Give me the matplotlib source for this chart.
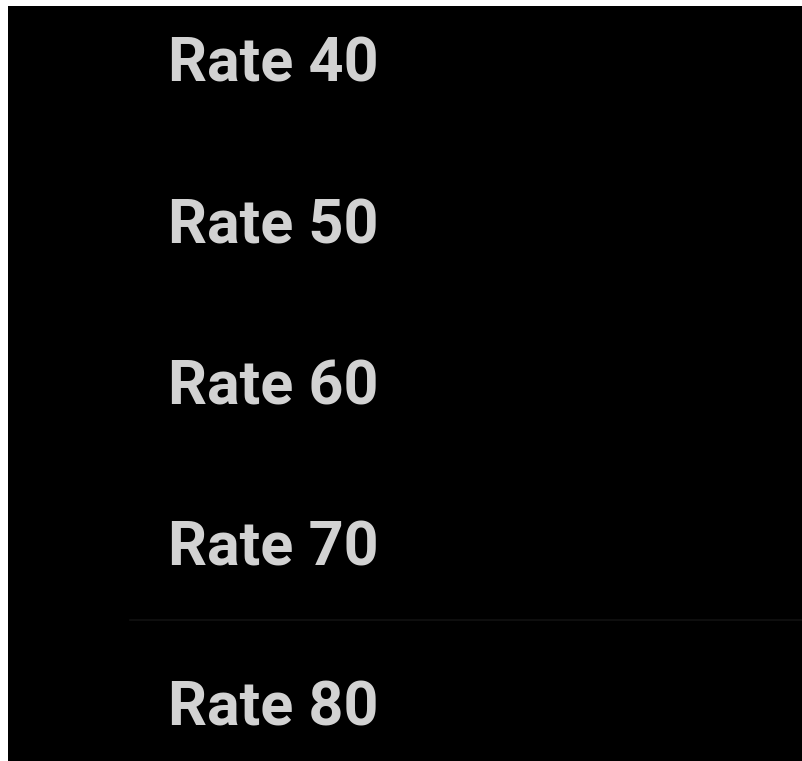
import matplotlib
matplotlib.use("Agg")
import matplotlib.pyplot as plt

labels = ["Rate 40", "Rate 50", "Rate 60", "Rate 70", "Rate 80"]
rates = [40, 50, 60, 70, 80]

W, H, DPI = 802, 761, 100
fig = plt.figure(figsize=(W / DPI, H / DPI), dpi=DPI, facecolor="white")
left_px, top_px = 8, 6
ax = fig.add_axes([left_px / W, 0, 1 - left_px / W, 1 - top_px / H])
ax.set_facecolor("black")
for s in ax.spines.values():
    s.set_visible(False)
ax.set_xticks([])
ax.set_yticks([])

step = 161.0
ax_h = H - top_px
top = -54 / step
ax.set_ylim(top + ax_h / step, top)
ax.set_xlim(0, 1)

for i, lab in enumerate(labels):
    ax.text(160 / (W - left_px), i + 22 / step, lab, color="#d2d2d2",
            fontsize=44, fontfamily="Roboto", fontweight="bold",
            va="baseline", ha="left")

ax.axhline(3.48, xmin=(130 - left_px) / (W - left_px), xmax=1,
           color="#111111", lw=1.2)

fig.savefig("out.png", dpi=DPI, facecolor="white")
